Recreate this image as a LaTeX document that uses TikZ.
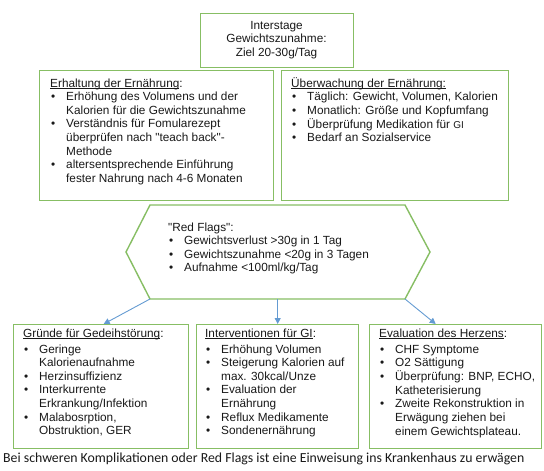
\documentclass[tikz,border=0pt]{standalone}
\usepackage{fontspec}
\setmainfont{Liberation Sans}
\newfontfamily\footfont{Carlito}
\usetikzlibrary{arrows.meta}
\definecolor{boxgreen}{RGB}{135,190,100}
\definecolor{arrowblue}{RGB}{100,155,210}
\definecolor{ink}{RGB}{25,25,25}
% bullet and hanging indent for list lines
\newcommand{\bul}{\makebox[16pt][l]{\hspace{1pt}\textbullet}}
\newcommand{\ind}{\hspace*{16pt}}
% underline just below the baseline
\newcommand{\headline}[1]{\underline{\smash{#1}}}
\newcommand{\qq}{\textquotedbl}
\begin{document}
\begin{tikzpicture}[x=1pt,y=-1pt,
  frame/.style={draw=boxgreen, line width=1.4pt, fill=white, inner sep=0pt, anchor=north west},
  txt/.style={anchor=base west, inner sep=0pt, text=ink, font=\fontsize{11.8}{13.6}\selectfont},
  link/.style={draw=arrowblue, line width=0.9pt, -{Triangle[length=6pt,width=6pt]}}]
\useasboundingbox (0,0) rectangle (544,471);

% goal box
\node[frame, minimum width=153pt, minimum height=54pt] (goal) at (200,13) {};
\node[txt, anchor=base] (goalTxt) at (276.5,29) {\begin{tabular}[t]{@{}c@{}}
Interstage\\ Gewichtszunahme:\\ Ziel 20-30g/Tag\end{tabular}};

% nutrition maintenance
\node[frame, minimum width=234pt, minimum height=130pt] (erhalt) at (39,70) {};
\node[txt] (erhaltTxt) at (50,87) {\begin{tabular}[t]{@{}l@{}}
\headline{Erhaltung der Ernährung}:\\
\bul Erhöhung des Volumens und der\\
\ind Kalorien für die Gewichtszunahme\\
\bul Verständnis für Fomularezept\\
\ind überprüfen nach \qq teach back\qq -\\
\ind Methode\\
\bul altersentsprechende Einführung\\
\ind fester Nahrung nach 4-6 Monaten\end{tabular}};

% nutrition monitoring
\node[frame, minimum width=227pt, minimum height=130pt] (ueberw) at (281,70) {};
\node[txt] (ueberwTxt) at (291,87) {\begin{tabular}[t]{@{}l@{}}
\headline{Überwachung der Ernährung:}\\
\bul Täglich: Gewicht, Volumen, Kalorien\\
\bul Monatlich: Größe und Kopfumfang\\
\bul Überprüfung Medikation für {\fontsize{10}{13.6}\selectfont GI}\\
\bul Bedarf an Sozialservice\end{tabular}};

% red flags hexagon
\coordinate (hW) at (126,252);
\coordinate (hNW) at (150,205);
\coordinate (hNE) at (405,205);
\coordinate (hE) at (430,252);
\coordinate (hSE) at (405,299);
\coordinate (hSW) at (150,299);
\draw[draw=boxgreen, line width=1.4pt, fill=white] (hW) -- (hNW) -- (hNE) -- (hE) -- (hSE) -- (hSW) -- cycle;
\node[txt] (flagsTxt) at (168,231) {\begin{tabular}[t]{@{}l@{}}
\qq Red Flags\qq :\\
\bul Gewichtsverlust >30g in 1 Tag\\
\bul Gewichtszunahme <20g in 3 Tagen\\
\bul Aufnahme <100ml/kg/Tag\end{tabular}};

% lower row
\node[frame, minimum width=175pt, minimum height=124pt] (gruende) at (13,324) {};
\node[txt] (gruendeTxt) at (23,337) {\begin{tabular}[t]{@{}l@{}}
\headline{Gründe für Gedeihstörung}:\\[2.5pt]
\bul Geringe\\
\ind Kalorienaufnahme\\
\bul Herzinsuffizienz\\
\bul Interkurrente\\
\ind Erkrankung/Infektion\\
\bul Malabosrption,\\
\ind Obstruktion, GER\end{tabular}};

\node[frame, minimum width=162pt, minimum height=124pt] (interv) at (196,324) {};
\node[txt] (intervTxt) at (205,337) {\begin{tabular}[t]{@{}l@{}}
\headline{Interventionen für GI}:\\[2.5pt]
\bul Erhöhung Volumen\\
\bul Steigerung Kalorien auf\\
\ind max. 30kcal/Unze\\
\bul Evaluation der\\
\ind Ernährung\\
\bul Reflux Medikamente\\
\bul Sondenernährung\end{tabular}};

\node[frame, minimum width=172pt, minimum height=124pt] (herz) at (369,324) {};
\node[txt] (herzTxt) at (379,337) {\begin{tabular}[t]{@{}l@{}}
\headline{Evaluation des Herzens}:\\[2.5pt]
\bul CHF Symptome\\
\bul O2 Sättigung\\
\bul Überprüfung: BNP, ECHO,\\
\ind Katheterisierung\\
\bul Zweite Rekonstruktion in\\
\ind Erwägung ziehen bei\\
\ind einem Gewichtsplateau.\end{tabular}};

% connectors from the hexagon
\draw[link] (hSW) -- ([xshift=2.5pt]gruende.north);
\draw[link] (interv.north |- hSW) -- (interv.north);
\draw[link] (hSE) -- ([xshift=-20pt]herz.north);

% footnote
\node[anchor=base west, inner sep=0pt, text=ink, font=\footfont\fontsize{13.8}{16}\selectfont] (note) at (3,462)
  {Bei schweren Komplikationen oder Red Flags ist eine Einweisung ins Krankenhaus zu erwägen};
\end{tikzpicture}
\end{document}
